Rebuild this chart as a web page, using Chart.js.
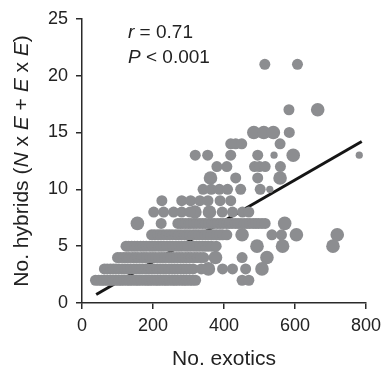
<!DOCTYPE html>
<html>
<head>
<meta charset="utf-8">
<script src="https://cdn.jsdelivr.net/npm/chart.js@4"></script>
<style>
  body { margin: 0; background: #fff; }
  canvas { display: block; }
</style>
</head>
<body>
<canvas id="chart" width="387" height="372"></canvas>
<script>
// x values (no. exotics) of the medium dots along each crowded row of hybrids
const band2 = [38, 47, 55, 62, 71, 79, 86, 95, 103, 110, 118, 127, 134, 142, 151, 158, 166, 175, 183, 190, 198, 207, 214, 222, 231, 238, 246, 255, 262, 270, 279, 287, 294, 303, 311, 320];
const band3 = [63, 71, 80, 88, 96, 104, 113, 121, 129, 137, 146, 154, 162, 170, 179, 187, 195, 203, 212, 220, 228, 236, 245, 253, 261, 269, 278, 286, 294, 303, 313];
const band4 = [100, 108, 117, 125, 133, 142, 150, 158, 167, 175, 183, 192, 200, 208, 217, 225, 233, 242, 250, 258, 267, 275, 283, 292, 300, 308, 317, 325, 334, 343];
const band5 = [124, 131, 140, 148, 156, 165, 173, 181, 190, 198, 206, 215, 223, 231, 240, 248, 256, 265, 273, 281, 290, 298, 306, 315, 323, 331, 340, 348, 356, 365, 378];
const band6 = [196, 204, 213, 221, 229, 238, 246, 254, 263, 271, 279, 288, 296, 304, 313, 321, 329, 338, 346, 354, 363, 371, 379, 388, 396, 408];
const band7 = [270, 277, 284, 292, 300, 307, 315, 323, 332, 340, 348, 357, 365, 373, 382, 390, 398, 407, 415, 423, 432, 440, 448, 457, 465, 473, 482, 490, 498, 507, 516];

// other dots as [exotics, hybrids]
const mediumPts = [
  [451, 2], [470, 2],
  [336, 3], [396, 3], [424, 3], [461, 3],
  [451, 4],
  [535, 6], [562, 6],
  [223, 7],
  [202, 8], [230, 8], [258, 8], [281, 8], [304, 8], [395, 8], [424, 8], [452, 8], [470, 8],
  [225, 9], [281, 9], [306, 9], [332, 9], [355, 9], [389, 9], [419, 9],
  [341, 10], [364, 10], [387, 10], [410, 10], [447, 10], [502, 10],
  [433, 11], [495, 11],
  [380, 12], [408, 12], [486, 12], [500, 12], [516, 12], [559, 12],
  [319, 13], [354, 13], [419, 13], [495, 13],
  [419, 14], [433, 14], [450, 14], [558, 14],
  [584, 15],
  [583, 17],
  [515, 21], [607, 21]
];
const largePts = [
  [376, 4], [521, 4],
  [356, 3], [507, 3],
  [493, 5], [565, 5], [707, 5],
  [451, 6], [604, 6], [719, 6],
  [156, 7], [571, 7],
  [318, 8], [359, 8],
  [362, 11], [558, 11],
  [595, 13],
  [484, 15], [512, 15], [539, 15],
  [664, 17]
];
const smallPts = [[529, 10], [541, 13], [781, 13]];

// fitted line end points
const fitX = [40, 788];
const fitY = [0.75, 14.2];

const xTicks = [0, 200, 400, 600, 800];
const yTicks = [0, 5, 10, 15, 20, 25];

const grey = '#8c8d90';
const fontName = '"Liberation Sans", Arial, sans-serif';

function toPts(xs, y) {
  return xs.map(x => ({ x: x, y: y }));
}
function pairs(list) {
  return list.map(p => ({ x: p[0], y: p[1] }));
}

let mediumData = []
  .concat(toPts(band2, 2), toPts(band3, 3), toPts(band4, 4))
  .concat(toPts(band5, 5), toPts(band6, 6), toPts(band7, 7))
  .concat(pairs(mediumPts));

// titles with italic letters are drawn by hand
const labelPlugin = {
  id: 'labels',
  afterDraw(chart) {
    const ctx = chart.ctx;
    const area = chart.chartArea;
    ctx.save();
    ctx.fillStyle = '#222';
    ctx.textBaseline = 'alphabetic';

    function runs(parts, size) {
      let w = 0;
      parts.forEach(p => {
        ctx.font = (p[1] ? 'italic ' : '') + size + 'px ' + fontName;
        w += ctx.measureText(p[0]).width;
      });
      return w;
    }
    function drawRuns(parts, size, x, y) {
      parts.forEach(p => {
        ctx.font = (p[1] ? 'italic ' : '') + size + 'px ' + fontName;
        ctx.fillText(p[0], x, y);
        x += ctx.measureText(p[0]).width;
      });
    }

    // annotation
    drawRuns([['r', true], [' = 0.71', false]], 19, 128, 38);
    drawRuns([['P', true], [' < 0.001', false]], 19, 128, 63);

    // x title
    ctx.font = '21px ' + fontName;
    ctx.textAlign = 'center';
    ctx.fillText('No. exotics', (area.left + area.right) / 2, 365);
    ctx.textAlign = 'left';

    // y title
    const yParts = [
      ['No. hybrids (', false], ['N', true], [' x ', false], ['E', true],
      [' + ', false], ['E', true], [' x ', false], ['E', true], [')', false]
    ];
    const w = runs(yParts, 21);
    ctx.translate(28, (area.top + area.bottom) / 2);
    ctx.rotate(-Math.PI / 2);
    drawRuns(yParts, 21, -w / 2, 0);
    ctx.restore();
  }
};

const axisColor = '#2a2a2a';

new Chart(document.getElementById('chart'), {
  type: 'scatter',
  data: {
    datasets: [
      {
        data: mediumData,
        backgroundColor: grey,
        borderWidth: 0,
        pointRadius: 5.5,
        order: 1
      },
      {
        data: pairs(largePts),
        backgroundColor: grey,
        borderWidth: 0,
        pointRadius: 6.8,
        order: 1
      },
      {
        data: pairs(smallPts),
        backgroundColor: grey,
        borderWidth: 0,
        pointRadius: 3.6,
        order: 1
      },
      {
        // drawn under the dots
        type: 'line',
        data: fitX.map((x, i) => ({ x: x, y: fitY[i] })),
        borderColor: '#151515',
        borderWidth: 3,
        pointRadius: 0,
        fill: false,
        order: 10
      }
    ]
  },
  options: {
    responsive: false,
    animation: false,
    events: [],
    layout: { padding: { top: 15, right: 16, left: 0, bottom: 0 } },
    plugins: {
      legend: { display: false },
      tooltip: { enabled: false }
    },
    scales: {
      x: {
        type: 'linear',
        min: 0,
        max: 800,
        afterBuildTicks: s => { s.ticks = xTicks.map(v => ({ value: v })); },
        afterFit: s => { s.height = 69; },
        ticks: {
          color: '#222',
          padding: 6,
          font: { family: fontName, size: 18 }
        },
        grid: {
          drawOnChartArea: false,
          drawTicks: true,
          tickLength: 6,
          color: axisColor,
          lineWidth: 1.5
        },
        border: { color: axisColor, width: 1.5 }
      },
      y: {
        type: 'linear',
        min: 0,
        max: 25,
        afterBuildTicks: s => { s.ticks = yTicks.map(v => ({ value: v })); },
        afterFit: s => { s.width = 82; },
        ticks: {
          color: '#222',
          padding: 8,
          font: { family: fontName, size: 18 }
        },
        grid: {
          drawOnChartArea: false,
          drawTicks: true,
          tickLength: 6,
          color: axisColor,
          lineWidth: 1.5
        },
        border: { color: axisColor, width: 1.5 }
      }
    }
  },
  plugins: [labelPlugin]
});
</script>
</body>
</html>
